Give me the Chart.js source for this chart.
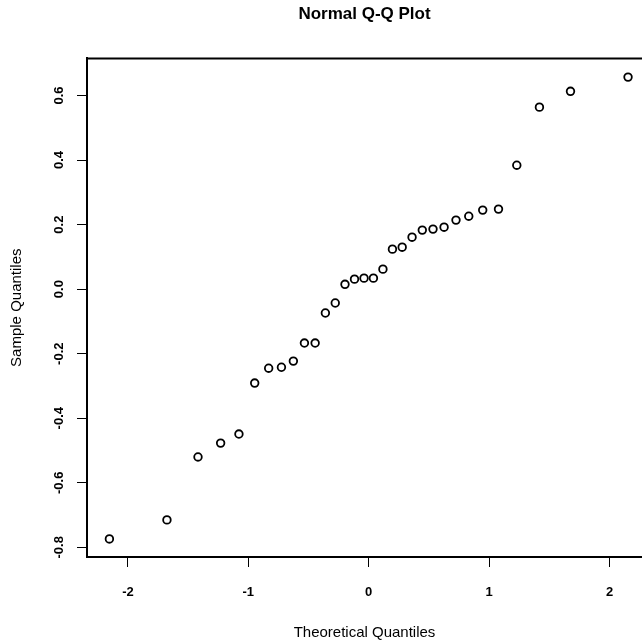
<!DOCTYPE html>
<html>
<head>
<meta charset="utf-8">
<title>Normal Q-Q Plot</title>
<script src="https://cdn.jsdelivr.net/npm/chart.js@4"></script>
<style>
  html, body { margin: 0; padding: 0; background: #fff; }
  #wrap { width: 642px; height: 644px; }
</style>
</head>
<body>
<div id="wrap"><canvas id="qqChart" width="642" height="644"></canvas></div>
<script>
// theoretical normal quantiles (x) and sorted sample values (y)
const theoretical = [
    -2.154, -1.676, -1.418, -1.230, -1.078, -0.947, -0.831, -0.725,
    -0.626, -0.534, -0.445, -0.360, -0.278, -0.197, -0.118, -0.039,
    0.039, 0.118, 0.197, 0.278, 0.360, 0.445, 0.534, 0.626,
    0.725, 0.831, 0.947, 1.078, 1.230, 1.418, 1.676, 2.154
];
const sample = [
    -0.774, -0.715, -0.520, -0.477, -0.449, -0.291, -0.245, -0.242,
    -0.223, -0.167, -0.167, -0.074, -0.043, 0.015, 0.031, 0.034,
    0.034, 0.062, 0.124, 0.130, 0.161, 0.183, 0.186, 0.192,
    0.214, 0.226, 0.245, 0.248, 0.384, 0.564, 0.613, 0.657
];
const xTicks = [-2, -1, 0, 1, 2];
const yTicks = [-0.8, -0.6, -0.4, -0.2, 0.0, 0.2, 0.4, 0.6];

const FONT = '"Liberation Sans", Arial, Helvetica, sans-serif';

// top edge of the R-style box (the right edge runs off the canvas)
const boxPlugin = {
    id: 'boxPlugin',
    afterDraw(chart) {
        const a = chart.chartArea;
        const ctx = chart.ctx;
        ctx.save();
        ctx.strokeStyle = '#000';
        ctx.lineWidth = 2;
        ctx.beginPath();
        ctx.moveTo(a.left - 1, a.top);
        ctx.lineTo(chart.width, a.top);
        ctx.stroke();
        ctx.restore();
    }
};

const points = theoretical.map((x, i) => ({ x: x, y: sample[i] }));

new Chart(document.getElementById('qqChart').getContext('2d'), {
    type: 'scatter',
    data: {
        datasets: [{
            data: points,
            pointStyle: 'circle',
            pointRadius: 3.8,
            pointHoverRadius: 3.8,
            pointBorderWidth: 1.8,
            pointBorderColor: '#000',
            pointBackgroundColor: 'rgba(255,255,255,0)'
        }]
    },
    options: {
        responsive: false,
        animation: false,
        devicePixelRatio: 1,
        layout: { padding: 0, autoPadding: false },
        plugins: {
            legend: { display: false },
            tooltip: { enabled: false },
            title: {
                display: true,
                fullSize: false,
                text: 'Normal Q-Q Plot',
                color: '#000',
                font: { family: FONT, size: 17, weight: 'bold' },
                padding: { top: 4, bottom: 34 }
            }
        },
        scales: {
            x: {
                type: 'linear',
                min: -2.34,
                max: 2.27,
                afterFit: scale => {
                    scale.height = 87;
                    scale.paddingLeft = 0;
                    scale.paddingRight = 0;
                },
                afterBuildTicks: scale => { scale.ticks = xTicks.map(v => ({ value: v })); },
                border: { display: true, color: '#000', width: 2 },
                grid: { drawOnChartArea: false, drawTicks: true, tickLength: 10, tickWidth: 1, tickColor: '#000' },
                ticks: {
                    color: '#000',
                    padding: 18,
                    font: { family: FONT, size: 13, weight: 'bold' },
                    callback: v => String(v)
                },
                title: {
                    display: true,
                    text: 'Theoretical Quantiles',
                    color: '#000',
                    font: { family: FONT, size: 15 },
                    padding: { top: 0, bottom: 2 }
                }
            },
            y: {
                type: 'linear',
                min: -0.83,
                max: 0.715,
                afterFit: scale => {
                    scale.width = 87;
                    scale.paddingTop = 0;
                    scale.paddingBottom = 0;
                },
                afterBuildTicks: scale => { scale.ticks = yTicks.map(v => ({ value: v })); },
                border: { display: true, color: '#000', width: 2 },
                grid: { drawOnChartArea: false, drawTicks: true, tickLength: 10, tickWidth: 1, tickColor: '#000' },
                ticks: {
                    color: '#000',
                    padding: 6,
                    minRotation: 90,
                    maxRotation: 90,
                    crossAlign: 'center',
                    font: { family: FONT, size: 13, weight: 'bold' },
                    callback: v => v.toFixed(1)
                },
                title: {
                    display: true,
                    text: 'Sample Quantiles',
                    color: '#000',
                    font: { family: FONT, size: 15 },
                    padding: { top: 8, bottom: 0 }
                }
            }
        }
    },
    plugins: [boxPlugin]
});
</script>
</body>
</html>
